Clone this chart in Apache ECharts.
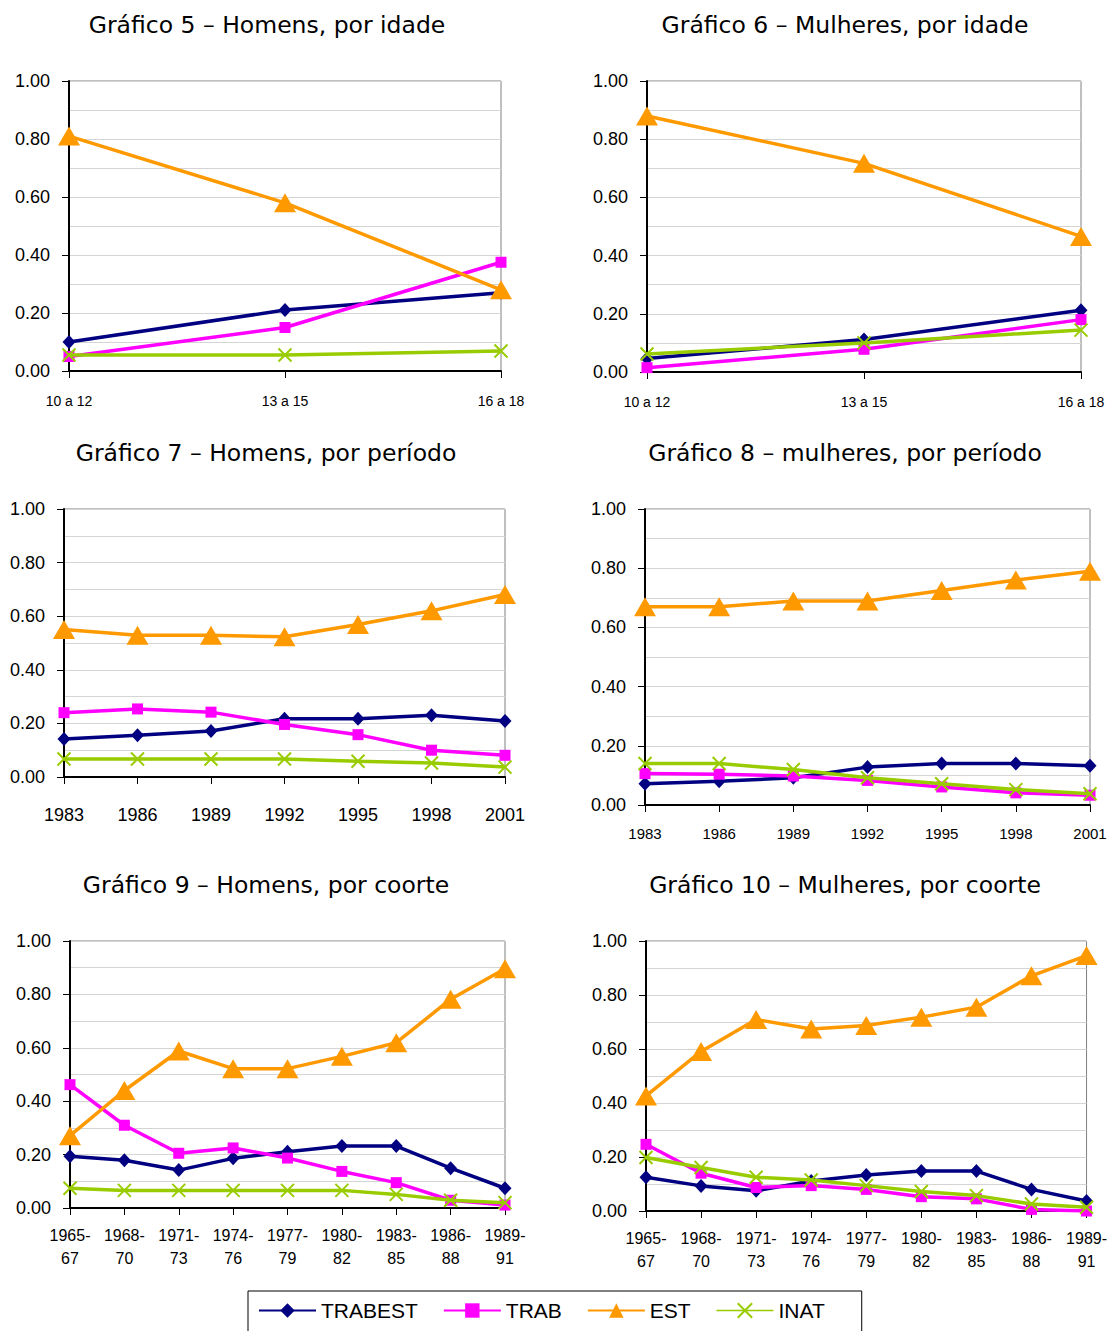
<!DOCTYPE html>
<html>
<head>
<meta charset="utf-8">
<script src="https://cdn.jsdelivr.net/npm/echarts@6/dist/echarts.min.js"></script>
<style>
html,body{margin:0;padding:0;background:#fff;}
#chart{width:1110px;height:1331px;}
</style>
</head>
<body>
<div id="chart"></div>
<script>
// ---------- DATA ----------
const seriesNames = ['TRABEST', 'TRAB', 'EST', 'INAT'];

const ageCats = ['10 a 12', '13 a 15', '16 a 18'];
const yearCats = ['1983', '1986', '1989', '1992', '1995', '1998', '2001'];
const cohortCats = ['1965-\n67', '1968-\n70', '1971-\n73', '1974-\n76', '1977-\n79', '1980-\n82', '1983-\n85', '1986-\n88', '1989-\n91'];

const titles = [
  'Gráfico 5 – Homens, por idade',
  'Gráfico 6 – Mulheres, por idade',
  'Gráfico 7 – Homens, por período',
  'Gráfico 8 – mulheres, por período',
  'Gráfico 9 – Homens, por coorte',
  'Gráfico 10 – Mulheres, por coorte'
];

// Gráfico 5 – Homens, por idade
const g5_trabest = [0.10, 0.21, 0.27];
const g5_trab    = [0.05, 0.15, 0.375];
const g5_est     = [0.81, 0.58, 0.28];
const g5_inat    = [0.055, 0.055, 0.069];

// Gráfico 6 – Mulheres, por idade
const g6_trabest = [0.046, 0.112, 0.212];
const g6_trab    = [0.015, 0.078, 0.18];
const g6_est     = [0.88, 0.717, 0.466];
const g6_inat    = [0.062, 0.10, 0.144];

// Gráfico 7 – Homens, por período
const g7_trabest = [0.142, 0.156, 0.172, 0.217, 0.217, 0.23, 0.209];
const g7_trab    = [0.24, 0.254, 0.242, 0.196, 0.158, 0.10, 0.081];
const g7_est     = [0.55, 0.529, 0.529, 0.523, 0.569, 0.62, 0.681];
const g7_inat    = [0.067, 0.067, 0.067, 0.067, 0.059, 0.052, 0.037];

// Gráfico 8 – mulheres, por período
const g8_trabest = [0.072, 0.08, 0.092, 0.128, 0.14, 0.14, 0.133];
const g8_trab    = [0.106, 0.104, 0.098, 0.083, 0.061, 0.041, 0.033];
const g8_est     = [0.67, 0.67, 0.689, 0.689, 0.725, 0.76, 0.79];
const g8_inat    = [0.14, 0.14, 0.12, 0.092, 0.072, 0.052, 0.038];

// Gráfico 9 – Homens, por coorte
const g9_trabest = [0.194, 0.179, 0.142, 0.186, 0.211, 0.232, 0.232, 0.149, 0.074];
const g9_trab    = [0.462, 0.31, 0.205, 0.225, 0.187, 0.137, 0.095, 0.029, 0.011];
const g9_est     = [0.271, 0.44, 0.588, 0.522, 0.522, 0.568, 0.619, 0.782, 0.896];
const g9_inat    = [0.074, 0.066, 0.066, 0.066, 0.066, 0.066, 0.051, 0.029, 0.02];

// Gráfico 10 – Mulheres, por coorte
const g10_trabest = [0.125, 0.093, 0.075, 0.111, 0.133, 0.148, 0.148, 0.08, 0.037];
const g10_trab    = [0.247, 0.14, 0.087, 0.094, 0.08, 0.053, 0.045, 0.006, 0.0];
const g10_est     = [0.426, 0.591, 0.709, 0.674, 0.687, 0.718, 0.755, 0.871, 0.946];
const g10_inat    = [0.198, 0.161, 0.125, 0.115, 0.094, 0.072, 0.057, 0.026, 0.014];

// ---------- LAYOUT / STYLE ----------
const panels = [
  {cats: ageCats,    data: [g5_trabest, g5_trab, g5_est, g5_inat],     grid: {left: 69,  top: 81,  width: 432, height: 290}, title: [267, 25],  xFont: 14, xMargin: 19},
  {cats: ageCats,    data: [g6_trabest, g6_trab, g6_est, g6_inat],     grid: {left: 647, top: 81,  width: 434, height: 291}, title: [845, 25],  xFont: 14, xMargin: 19},
  {cats: yearCats,   data: [g7_trabest, g7_trab, g7_est, g7_inat],     grid: {left: 64,  top: 509, width: 441, height: 268}, title: [266, 453], xFont: 18, xMargin: 25},
  {cats: yearCats,   data: [g8_trabest, g8_trab, g8_est, g8_inat],     grid: {left: 645, top: 509, width: 445, height: 296}, title: [845, 453], xFont: 15, xMargin: 17},
  {cats: cohortCats, data: [g9_trabest, g9_trab, g9_est, g9_inat],     grid: {left: 70,  top: 941, width: 435, height: 267}, title: [266, 885], xFont: 16, xMargin: 16},
  {cats: cohortCats, data: [g10_trabest, g10_trab, g10_est, g10_inat], grid: {left: 646, top: 941, width: 442, height: 270}, title: [845, 885], xFont: 16, xMargin: 16}
];

const colors = {TRABEST: '#000080', TRAB: '#FF00FF', EST: '#FF9900', INAT: '#99CC00'};
const symbols = {
  TRABEST: {symbol: 'diamond', size: [13, 14]},
  TRAB: {symbol: 'rect', size: 11},
  EST: {symbol: 'triangle', size: [22, 19]},
  INAT: {symbol: 'path://M0,0L10,10M10,0L0,10', size: 13}
};

const FONT = '"Liberation Sans", Arial, sans-serif';
const TFONT = '"DejaVu Sans", Verdana, sans-serif';

const grids = [], xAxes = [], yAxes = [], series = [], graphics = [];

panels.forEach((p, i) => {
  grids.push(Object.assign({show: true, borderColor: '#808080', borderWidth: 1, backgroundColor: '#fff'}, p.grid));
  xAxes.push({
    type: 'category', gridIndex: i, data: p.cats, boundaryGap: false,
    axisLine: {show: true, lineStyle: {color: '#000', width: 2}},
    axisTick: {show: true, alignWithLabel: true, length: 7, lineStyle: {color: '#000', width: 1}},
    axisLabel: {interval: 0, color: '#000', fontFamily: FONT, fontSize: p.xFont, margin: p.xMargin, lineHeight: p.xFont + 7},
    splitLine: {show: false}
  });
  yAxes.push({
    type: 'value', gridIndex: i, min: 0, max: 1, interval: 0.2,
    axisLine: {show: true, lineStyle: {color: '#000', width: 2}},
    axisTick: {show: true, length: 7, lineStyle: {color: '#000', width: 1}},
    axisLabel: {color: '#000', fontFamily: FONT, fontSize: 18, margin: 19, formatter: v => v.toFixed(2)},
    splitLine: {show: true, lineStyle: {color: '#d4d4d4', width: 1}},
    minorTick: {show: false, splitNumber: 2},
    minorSplitLine: {show: true, lineStyle: {color: '#d4d4d4', width: 1}}
  });
  seriesNames.forEach((name, k) => {
    const s = symbols[name];
    series.push({
      name: name, type: 'line', xAxisIndex: i, yAxisIndex: i,
      data: p.data[k],
      symbol: s.symbol, symbolSize: s.size, showSymbol: true,
      lineStyle: {color: colors[name], width: 3.5},
      itemStyle: name === 'INAT'
        ? {color: colors[name], borderColor: colors[name], borderWidth: 2}
        : {color: colors[name], borderColor: colors[name], borderWidth: 0},
      emphasis: {disabled: true},
      z: 2 + k
    });
  });
  graphics.push({
    type: 'text', x: p.title[0], y: p.title[1],
    style: {text: titles[i], font: '23.5px ' + TFONT, fill: '#000', align: 'center', verticalAlign: 'middle'}
  });
});

const chart = echarts.init(document.getElementById('chart'), null, {renderer: 'svg'});
chart.setOption({
  animation: false,
  backgroundColor: '#fff',
  grid: grids,
  xAxis: xAxes,
  yAxis: yAxes,
  series: series,
  graphic: graphics,
  legend: {
    data: seriesNames.map(n => n === 'INAT'
      ? {name: n, lineStyle: {width: 1.5}}
      : {name: n}),
    left: 248, top: 1291,
    padding: [9, 37, 13, 10],
    itemWidth: 57, itemHeight: 18, itemGap: 25,
    borderColor: '#000', borderWidth: 1,
    textStyle: {color: '#000', fontFamily: FONT, fontSize: 21}
  }
});
</script>
</body>
</html>
